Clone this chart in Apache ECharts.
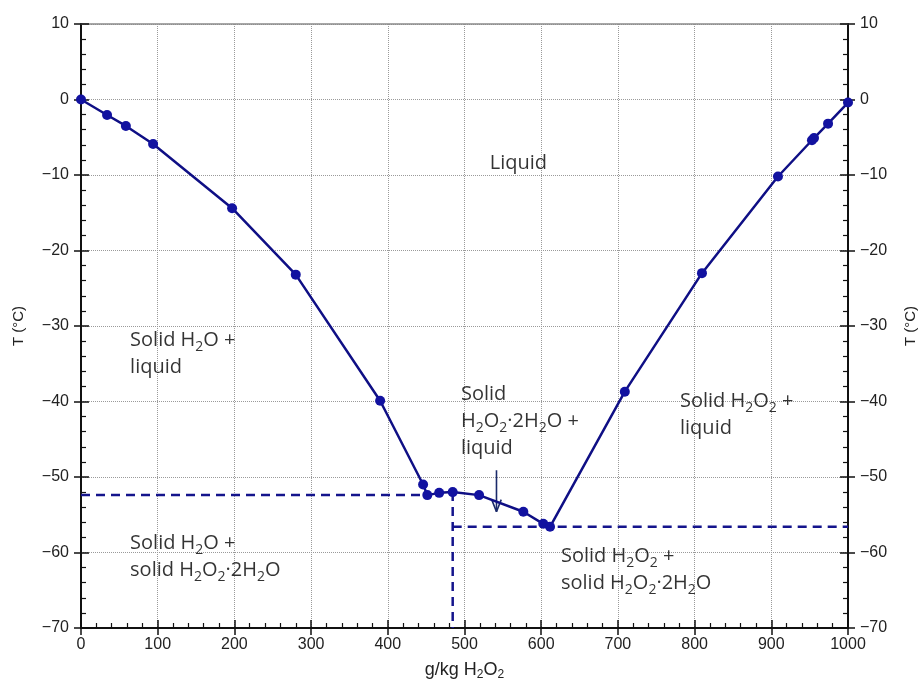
<!DOCTYPE html>
<html>
<head>
<meta charset="utf-8">
<script src="https://cdn.jsdelivr.net/npm/echarts@6/dist/echarts.min.js"></script>
<style>html,body{margin:0;padding:0;background:#fff}#c{width:921px;height:680px}</style>
</head>
<body>
<div id="c"></div>
<script>
// Liquidus data: concentration (g/kg H2O2) and temperature (°C)
const concentration = [0, 34, 58.5, 94, 197, 280, 390, 446, 451.5, 467, 484.6, 519, 576.7, 602.7, 611.5, 709, 809.6, 908.7, 953, 955.7, 974, 1000];
const temperature   = [0, -2.05, -3.5, -5.9, -14.4, -23.2, -39.9, -51.0, -52.4, -52.1, -52.0, -52.4, -54.6, -56.2, -56.6, -38.7, -23.0, -10.2, -5.4, -5.1, -3.2, -0.4];

// Eutectic / phase-boundary dashed lines
const eutectic1Line = [[0, -52.4], [451.5, -52.4]];
const dihydrateLine = [[484.6, -52.0], [484.6, -70]];
const eutectic2Line = [[484.6, -56.6], [1000, -56.6]];

// Arrow annotation
const arrowShaft = [[541.7, -49.1], [541.7, -54.6]];
const arrowHead  = [[535.5, -53.0], [541.7, -54.6], [547.9, -53.0]];

// Region labels: [x, y (top-left), text]  (₂ rendered as subscript)
const regionLabels = [
  [533, -6.6, 'Liquid'],
  [64, -30.1, 'Solid H₂O +\nliquid'],
  [495.4, -37.3, 'Solid\nH₂O₂·2H₂O +\nliquid'],
  [781, -38.2, 'Solid H₂O₂ +\nliquid'],
  [64, -57.0, 'Solid H₂O +\nsolid H₂O₂·2H₂O'],
  [625.8, -58.7, 'Solid H₂O₂ +\nsolid H₂O₂·2H₂O']
];
const xAxisTitle = 'g/kg H₂O₂';
const yAxisTitle = 'T (°C)';

const xTicks = {min: 0, max: 1000, interval: 100};
const yTicks = {min: -70, max: 10, interval: 10};

const FONT = 'Liberation Sans';
const ANNO_FONT = 'Open Sans';
const lineColor = '#0f0f85';
const dashColor = '#14148c';
const pts = concentration.map((x, i) => [x, temperature[i]]);
const minus = v => String(v).replace('-', '\u2212');
const toRich = s => s.replace(/₂/g, '{s|2}');

const chart = echarts.init(document.getElementById('c'), null, {renderer: 'canvas'});

const baseY = {type: 'value', min: yTicks.min, max: yTicks.max, interval: yTicks.interval};
const baseX = {type: 'value', min: xTicks.min, max: xTicks.max, interval: xTicks.interval};

chart.setOption({
  animation: false,
  backgroundColor: '#fff',
  grid: {left: 81, right: 73, top: 24, bottom: 52, containLabel: false, outerBoundsMode: 'none'},
  xAxis: [
    Object.assign({}, baseX, {
      position: 'bottom',
      name: toRich(xAxisTitle), nameLocation: 'middle', nameGap: 31,
      nameTextStyle: {fontFamily: FONT, fontSize: 18, color: '#222', lineHeight: 22,
        rich: {s: {fontFamily: FONT, fontSize: 12, color: '#222', verticalAlign: 'bottom', lineHeight: 16}}},
      axisLine: {show: true, onZero: false, lineStyle: {color: '#111', width: 2}},
      axisTick: {show: true, inside: true, length: 8, lineStyle: {color: '#111', width: 1.5}},
      minorTick: {show: true, splitNumber: 5, length: 5, lineStyle: {color: '#111', width: 1.2}},
      axisLabel: {margin: 9, fontFamily: FONT, fontSize: 16, color: '#222', formatter: v => String(v)},
      splitLine: {show: true, lineStyle: {color: '#9a9a9a', type: 'dotted', width: 1}}
    }),
    Object.assign({}, baseX, {
      position: 'bottom',
      axisLine: {show: false, onZero: false},
      axisTick: {show: true, inside: false, length: 7, lineStyle: {color: '#111', width: 1.5}},
      axisLabel: {show: false}, splitLine: {show: false}
    }),
    Object.assign({}, baseX, {
      position: 'top',
      axisLine: {show: true, onZero: false, lineStyle: {color: '#8a8a8a', width: 1.5}},
      axisTick: {show: false}, axisLabel: {show: false}, splitLine: {show: false}
    })
  ],
  yAxis: [
    Object.assign({}, baseY, {
      position: 'left',
      name: yAxisTitle, nameLocation: 'middle', nameGap: 55, nameRotate: 90,
      nameTextStyle: {fontFamily: FONT, fontSize: 15, color: '#222'},
      axisLine: {show: true, onZero: false, lineStyle: {color: '#111', width: 2}},
      axisTick: {show: true, inside: true, length: 8, lineStyle: {color: '#111', width: 1.5}},
      minorTick: {show: true, splitNumber: 5, length: 5, lineStyle: {color: '#111', width: 1.2}},
      axisLabel: {margin: 12, fontFamily: FONT, fontSize: 16, color: '#222', formatter: minus},
      splitLine: {show: true, lineStyle: {color: '#9a9a9a', type: 'dotted', width: 1}}
    }),
    Object.assign({}, baseY, {
      position: 'right',
      name: yAxisTitle, nameLocation: 'middle', nameGap: 55, nameRotate: 90,
      nameTextStyle: {fontFamily: FONT, fontSize: 15, color: '#222'},
      axisLine: {show: true, onZero: false, lineStyle: {color: '#111', width: 2}},
      axisTick: {show: true, inside: true, length: 8, lineStyle: {color: '#111', width: 1.5}},
      minorTick: {show: true, splitNumber: 5, length: 5, lineStyle: {color: '#111', width: 1.2}},
      axisLabel: {margin: 12, fontFamily: FONT, fontSize: 16, color: '#222', formatter: minus},
      splitLine: {show: false}
    }),
    Object.assign({}, baseY, {
      position: 'left',
      axisLine: {show: false, onZero: false},
      axisTick: {show: true, inside: false, length: 7, lineStyle: {color: '#111', width: 1.5}},
      axisLabel: {show: false}, splitLine: {show: false}
    }),
    Object.assign({}, baseY, {
      position: 'right',
      axisLine: {show: false, onZero: false},
      axisTick: {show: true, inside: false, length: 7, lineStyle: {color: '#111', width: 1.5}},
      axisLabel: {show: false}, splitLine: {show: false}
    })
  ],
  series: [
    {type: 'line', data: eutectic1Line, symbol: 'none', silent: true, z: 2,
     lineStyle: {color: dashColor, width: 2.5, type: [9, 6]}},
    {type: 'line', data: dihydrateLine, symbol: 'none', silent: true, z: 2,
     lineStyle: {color: dashColor, width: 2.5, type: [9, 6]}},
    {type: 'line', data: eutectic2Line, symbol: 'none', silent: true, z: 2,
     lineStyle: {color: dashColor, width: 2.5, type: [9, 6]}},
    {type: 'line', data: pts, smooth: false,
     symbol: 'circle', symbolSize: 10, z: 5,
     itemStyle: {color: '#1212a0', borderWidth: 0},
     lineStyle: {color: lineColor, width: 2.5}},
    {type: 'line', data: arrowShaft, symbol: 'none', z: 4,
     lineStyle: {color: '#1a2a6a', width: 1.6}},
    {type: 'line', data: arrowHead, symbol: 'none', z: 4,
     lineStyle: {color: '#1a2a6a', width: 1.6}},
    {type: 'scatter', symbolSize: 0, silent: true, z: 6,
     data: regionLabels.map(r => ({value: [r[0], r[1]], name: toRich(r[2])})),
     label: {show: true, position: [0, 0], align: 'left', verticalAlign: 'top',
       formatter: p => p.name, fontFamily: ANNO_FONT, fontSize: 20, fontWeight: 500, lineHeight: 27, color: '#000',
       rich: {s: {fontFamily: ANNO_FONT, fontSize: 14, fontWeight: 500, color: '#000', verticalAlign: 'bottom', lineHeight: 14}}}}
  ]
});
</script>
</body>
</html>
